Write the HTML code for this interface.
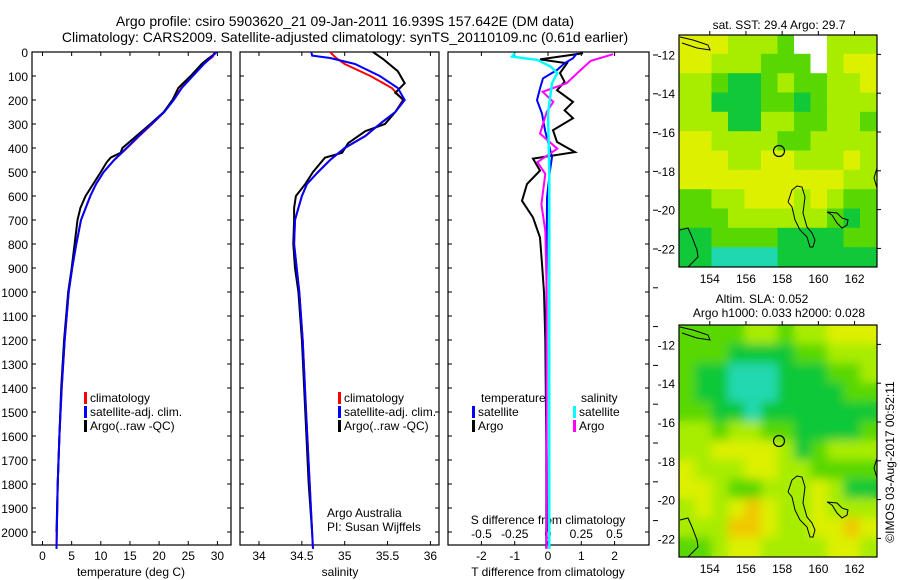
<!DOCTYPE html>
<html><head><meta charset="utf-8"><style>
html,body{margin:0;padding:0;background:#fff}
svg{display:block;font-family:"Liberation Sans",sans-serif}
text{fill:#000}
</style></head><body>
<svg id="c" width="900" height="580" viewBox="0 0 900 580">
<text x="345" y="26" font-size="14" text-anchor="middle">Argo profile: csiro 5903620_21 09-Jan-2011 16.939S 157.642E (DM data)</text>
<text x="345" y="42" font-size="14" text-anchor="middle">Climatology: CARS2009. Satellite-adjusted climatology: synTS_20110109.nc (0.61d earlier)</text>
<g id="maps"></g>
<g id="plots"></g>
</svg>
<script>
// ---------- profile data ----------
const tDepth=[0,10,30,50,100,150,200,250,300,350,400,420,440,460,500,550,600,650,700,800,900,1000,1200,1400,1600,1800,2000];
const tArgo=[29.7,29.4,28.3,27.3,25.4,23.3,22.3,20.8,18.5,16.1,13.7,13.4,11.7,11.0,10.0,8.7,7.4,6.5,6.0,5.5,5.0,4.4,3.7,3.2,2.9,2.6,2.4];
const cDepth=[0,20,50,100,150,200,250,300,350,400,450,500,550,600,700,800,900,1000,1200,1400,1600,1800,2000,2070];
const tClim=[29.5,29.2,27.6,25.7,23.8,22.3,20.9,18.8,16.6,14.5,12.3,10.5,9.2,8.2,6.6,5.8,5.1,4.5,3.8,3.3,2.9,2.6,2.45,2.4];
const tSat=[29.9,29.0,27.7,25.8,23.9,22.5,20.9,18.7,16.5,14.4,12.3,10.5,9.2,8.2,6.6,5.8,5.1,4.5,3.8,3.3,2.9,2.6,2.45,2.4];
const sDepthArgo=[0,30,80,130,170,200,250,300,330,380,420,440,500,550,600,650,700,800,900,1000,1200,1500,1800,2000];
const sArgo=[35.33,35.45,35.62,35.70,35.59,35.69,35.59,35.47,35.24,35.04,34.97,34.77,34.63,34.54,34.43,34.41,34.41,34.40,34.42,34.46,34.50,34.54,34.58,34.62];
const sDepthClim=[0,15,25,50,100,150,200,250,300,350,400,450,500,550,600,650,700,800,1000,1200,1500,2000,2070];
const sClim=[34.83,34.87,34.90,35.0,35.3,35.55,35.68,35.59,35.41,35.24,35.00,34.83,34.69,34.56,34.50,34.46,34.42,34.41,34.47,34.51,34.55,34.62,34.63];
const sSat=[34.61,34.62,34.83,35.12,35.41,35.62,35.70,35.59,35.41,35.24,35.00,34.83,34.69,34.56,34.50,34.46,34.42,34.41,34.47,34.51,34.55,34.62,34.63];
const dDepthT=[5,31,47,88,124,159,208,243,276,326,375,417,444,494,550,620,689,773,883,1000,1200,1500,1700,2000];
const dTArgo=[1.05,-0.24,0.57,0.36,0.5,0.27,0.75,0.5,0.75,0.15,0.27,0.81,-0.45,-0.24,-0.63,-0.78,-0.45,-0.24,-0.18,-0.12,-0.08,-0.06,-0.04,-0.03];
const dDepthTS=[5,26,47,75,110,152,201,257,326,438,494,606,800,1200,2000,2070];
const dTSat=[0.87,0.75,0.5,0.27,-0.15,-0.24,-0.33,-0.18,-0.09,0.12,0.06,-0.03,-0.04,-0.05,-0.05,-0.05];
const dDepthS=[9,37,88,130,166,208,250,340,403,459,508,634,745,1000,1500,2070];
const dSArgo=[0.49,0.32,0.22,0.14,-0.04,0.04,-0.01,-0.06,0.07,-0.08,-0.02,-0.05,-0.02,-0.01,-0.01,-0.01];
const dDepthSS=[5,19,33,61,88,130,257,500,1000,2070];
const dSSat=[-0.25,-0.27,-0.08,0.02,0.07,0.03,0.0,0.01,0.01,0.01];
const depthTicks=[0,100,200,300,400,500,600,700,800,900,1000,1100,1200,1300,1400,1500,1600,1700,1800,1900,2000];
const tTicks=[0,5,10,15,20,25,30];
const sTicks=[34,34.5,35,35.5,36];
const sTickLabels=["34","34.5","35","35.5","36"];
const dTTicks=[-2,-1,0,1,2];
const dSTicks=[-0.5,-0.25,0,0.25,0.5];
const dSTickLabels=["-0.5","-0.25","0","0.25","0.5"];
// ---------- map data (palette index grids) ----------
const mapLonTicks=[154,156,158,160,162];
const mapLatTicks=[12,14,16,18,20,22];
const sstGrid=["YYYLLLGWWLLL","YYLLLGGGWLYY","LLGDDGLGGLLY","LLDDDGGDGLLL","LLLDDLLGGLLG","YYLLLLGGLLLL","YYYLLYYLLLYL","YYYYYYYYYYLL","GGLLYYYLYLGG","GGGLLLLLLGDG","DDGGGGDDDDGG","DDCCCCDDDDDD"];
const slaGrid=["GGGGLLGLLYYY","GGGDDDDGGLLL","GDDCCCDDDGGL","GDDCCCDDDDGG","GGDDCDDDDDDD","LLGLLGGDDDDG","LLYYYYLDGLLL","YLLLYYLLGGGG","YYLGGLLLYLDD","LYLYOYLLYLLL","LLLOOYLLYYOY","GGLYYLLLLYYL"];
const palette={Y:"#dcf000",L:"#a8ec00",G:"#58d800",D:"#10c838",C:"#20d8b0",O:"#f0c800",W:"#ffffff"};

const NS="http://www.w3.org/2000/svg";
const plots=document.getElementById('plots');
const maps=document.getElementById('maps');
function mk(tag,attrs,parent){const e=document.createElementNS(NS,tag);for(const k in attrs)e.setAttribute(k,attrs[k]);(parent||plots).appendChild(e);return e;}
function txt(x,y,s,anchor,size,parent){const e=mk('text',{x:x,y:y,'font-size':size||12,'text-anchor':anchor||'start'},parent);e.textContent=s;return e;}
const yTop=52,yBot=545;
function yD(d){return yTop+d*0.24;}
function xT(t){return 42.5+t*5.83;}
function xS(s){return 259+(s-34)*85.7;}
function xDT(t){return 548+t*33.3;}
function xDS(s){return 548+s*133;}
function line(xs,ds,fx,color,w,name){
  const p=xs.map((v,i)=>(i?'L':'M')+fx(v).toFixed(1)+','+yD(ds[i]).toFixed(1)).join('');
  const e=mk('path',{d:p,fill:'none',stroke:color,'stroke-width':w});
  
  
}
const panels=[[32,231,'temperature-panel'],[240,439,'salinity-panel'],[448,649,'difference-panel']];
panels.forEach(p=>{
  const r=mk('rect',{x:p[0],y:yTop,width:p[1]-p[0],height:yBot-yTop,fill:'none',stroke:'#000','stroke-width':1.2});
  
  
});
depthTicks.forEach(d=>{
  const t=txt(28,yD(d)+5,String(d),'end',12);
  
  
  [[32,1],[231,-1],[240,1],[439,-1],[448,1],[649,-1]].forEach(a=>mk('line',{x1:a[0],x2:a[0]+a[1]*4,y1:yD(d),y2:yD(d),stroke:'#000'}));
});
for(let y=55;y<540;y+=38.8) mk('line',{x1:653,x2:658,y1:y,y2:y,stroke:'#000'});
tTicks.forEach(t=>{const e=txt(xT(t),560,String(t),'middle',12);mk('line',{x1:xT(t),x2:xT(t),y1:yBot,y2:yBot-4,stroke:'#000'});mk('line',{x1:xT(t),x2:xT(t),y1:yTop,y2:yTop+4,stroke:'#000'});});
sTicks.forEach((s,i)=>{const e=txt(xS(s),560,sTickLabels[i],'middle',12);mk('line',{x1:xS(s),x2:xS(s),y1:yBot,y2:yBot-4,stroke:'#000'});mk('line',{x1:xS(s),x2:xS(s),y1:yTop,y2:yTop+4,stroke:'#000'});});
dTTicks.forEach(t=>{const e=txt(xDT(t),560,String(t),'middle',12);mk('line',{x1:xDT(t),x2:xDT(t),y1:yBot,y2:yBot-4,stroke:'#000'});mk('line',{x1:xDT(t),x2:xDT(t),y1:yTop,y2:yTop+4,stroke:'#000'});});
dSTicks.forEach((s,i)=>{const e=txt(xDS(s),538,dSTickLabels[i],'middle',12);});
[[131,'temperature (deg C)','x-axis-title-temperature'],[340,'salinity','x-axis-title-salinity'],[548,'T difference from climatology','x-axis-title-t-diff']].forEach(a=>{const e=txt(a[0],576,a[1],'middle',12);});
{const e=txt(548,524,'S difference from climatology','middle',12);}
line(tClim,cDepth,xT,'#ff0000',2,'temp-climatology-line');
line(tArgo,tDepth,xT,'#000000',2,'temp-argo-line');
line(tSat,cDepth,xT,'#0000ff',2,'temp-satellite-line');
line(sClim,sDepthClim,xS,'#ff0000',2,'sal-climatology-line');
line(sArgo,sDepthArgo,xS,'#000000',2,'sal-argo-line');
line(sSat,sDepthClim,xS,'#0000ff',2,'sal-satellite-line');
line(dTArgo,dDepthT,xDT,'#000000',2,'t-diff-argo-line');
line(dTSat,dDepthTS,xDT,'#0000ff',2,'t-diff-satellite-line');
line(dSArgo,dDepthS,xDS,'#ff00ff',2,'s-diff-argo-line');
line(dSSat,dDepthSS,xDS,'#00ffff',2.5,'s-diff-satellite-line');
function leg(x,y,color,label,name){mk('rect',{x:x,y:y-10,width:3,height:12,fill:color});const e=txt(x+6,y,label,'start',12);}
leg(84,402,'#ff0000','climatology','legend-climatology');
leg(84,416,'#0000ff','satellite-adj. clim.','legend-satellite');
leg(84,430,'#000000','Argo(..raw -QC)','legend-argo');
leg(338,402,'#ff0000','climatology','legend-climatology-sal');
leg(338,416,'#0000ff','satellite-adj. clim.','legend-satellite-sal');
leg(338,430,'#000000','Argo(..raw -QC)','legend-argo-sal');
{const e=txt(481,402,'temperature','start',12);}
{const e=txt(581,402,'salinity','start',12);}
leg(472,416,'#0000ff','satellite','legend-t-satellite');
leg(472,430,'#000000','Argo','legend-t-argo');
leg(573,416,'#00ffff','satellite','legend-s-satellite');
leg(573,430,'#ff00ff','Argo','legend-s-argo');
{const e=txt(327,517,'Argo Australia','start',12);}
{const e=txt(327,531,'PI: Susan Wijffels','start',12);}
// ---------- maps ----------
const mx0=679,mx1=877,mw=mx1-mx0,mh=232;
function lonX(l){return mx0+(l-152.3)*18.1;}
function latY(l,top){return top+(l-11)*19.4;}
const coast=[[[788,202],[792,190],[797,186],[802,187],[805,197],[803,213],[807,227],[812,233],[815,240],[813,247],[810,247],[807,237],[800,230],[795,220],[792,207],[788,202]],
[[827,212],[837,213],[842,218],[848,220],[847,225],[842,228],[837,223],[832,215],[827,212]],
[[680,230],[688,228],[692,237],[697,250],[698,257],[693,262],[688,267]],
[[680,37],[693,40],[708,45],[710,50],[697,48],[682,43]],
[[877,168],[874,178],[877,188]]];
function cells(grid,top,parent){
  const cw=mw/12,ch=mh/12;
  grid.forEach((row,r)=>{[...row].forEach((ch2,c)=>{
    mk('rect',{x:(mx0+c*cw-0.5).toFixed(1),y:(top+r*ch-0.5).toFixed(1),width:(cw+1).toFixed(1),height:(ch+1).toFixed(1),fill:palette[ch2]},parent);
  });});
}
function drawMap(top,grid,name,blur){
  const g=mk('g',{},maps);
  
  
  const clipId='clip'+top;
  const cp=mk('clipPath',{id:clipId},g);mk('rect',{x:mx0,y:top,width:mw,height:mh},cp);
  const gi=mk('g',{'clip-path':'url(#'+clipId+')'},g);
  cells(grid,top,gi);
  if(blur){const gb=mk('g',{filter:'url(#bl)'},gi);cells(grid,top,gb);}
  const off=top-35;
  coast.forEach(pts=>{mk('path',{d:pts.map((p,i)=>(i?'L':'M')+p[0]+','+(p[1]+off)).join(''),fill:'none',stroke:'#000','stroke-width':1},gi);});
  const m=mk('circle',{cx:779,cy:151+off,r:5.5,fill:'none',stroke:'#000','stroke-width':1.2},gi);
  
  
  mk('rect',{x:mx0,y:top,width:mw,height:mh,fill:'none',stroke:'#000','stroke-width':1.2},g);
  mapLatTicks.forEach(l=>{const y=latY(l,top);const t=txt(675,y+5,'-'+l,'end',12,g);mk('line',{x1:mx1,x2:mx1+4,y1:y,y2:y,stroke:'#000'},g);});
  mapLonTicks.forEach(l=>{const x=lonX(l);const t=txt(x,top+mh+16,String(l),'middle',12,g);mk('line',{x1:x,x2:x,y1:top,y2:top-4,stroke:'#000'},g);});
}
const defs=mk('defs',{},maps);const f=mk('filter',{id:'bl'},defs);mk('feGaussianBlur',{stdDeviation:5},f);
drawMap(35,sstGrid,'sst-map',false);
drawMap(325,slaGrid,'sla-map',true);
{const e=txt(779,29,'sat. SST: 29.4 Argo: 29.7','middle',12,maps);}
{const e=txt(762,303,'Altim. SLA: 0.052','middle',12,maps);}
{const e=txt(779,317,'Argo h1000: 0.033 h2000: 0.028','middle',12,maps);}
{const e=txt(0,0,'©IMOS 03-Aug-2017 00:52:11','middle',12,maps);e.setAttribute('transform','translate(894,462) rotate(-90)');}
</script>
</body></html>
